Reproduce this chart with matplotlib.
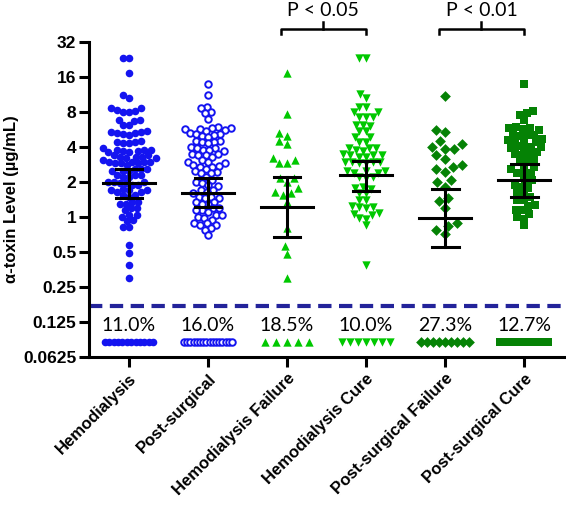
import numpy as np
import matplotlib
matplotlib.use('Agg')
from matplotlib import pyplot as plt

groups = ['Hemodialysis', 'Post-surgical', 'Hemodialysis Failure',
          'Hemodialysis Cure', 'Post-surgical Failure', 'Post-surgical Cure']

# detectable alpha-toxin levels (ug/mL)
hemodialysis = [23.1, 23.1, 17.2, 11.2, 10.5,
                8.6, 8.6, 8.4, 8.2, 8.0, 8.0,
                6.8, 6.8, 6.7, 6.2, 6.2,
                5.5, 5.4, 5.4, 5.3, 5.3, 5.2, 5.1,
                4.5, 4.4, 4.4, 4.3, 4.3,
                3.9, 3.8, 3.8, 3.8, 3.7, 3.7, 3.6, 3.6,
                3.4, 3.4, 3.3, 3.3, 3.3, 3.2, 3.2, 3.1,
                3.0, 3.0, 3.0, 2.95, 2.9, 2.9, 2.9, 2.8,
                2.6, 2.6, 2.6, 2.5, 2.5, 2.5,
                2.3, 2.3, 2.3, 2.2, 2.2,
                2.0, 2.0, 2.0, 1.95, 1.95, 1.9, 1.9,
                1.75, 1.7, 1.7, 1.7, 1.65, 1.65,
                1.55, 1.55, 1.5,
                1.35, 1.35, 1.3, 1.3,
                1.2, 1.2, 1.15,
                1.05, 1.05, 1.0,
                0.95, 0.92, 0.82, 0.82,
                0.57, 0.49, 0.39, 0.30]
post_surgical = [13.9, 11.2, 8.8, 8.6, 8.0, 7.8, 7.0,
                 5.9, 5.8, 5.8, 5.7, 5.7, 5.6, 5.5,
                 5.3, 5.2, 5.2, 5.1, 5.0, 4.9,
                 4.5, 4.5, 4.4, 4.4, 4.3,
                 4.0, 3.9, 3.9, 3.8, 3.8, 3.7,
                 3.5, 3.5, 3.4, 3.4, 3.3,
                 3.1, 3.0, 3.0, 2.9,
                 2.8, 2.75, 2.7, 2.7, 2.6,
                 2.5, 2.45, 2.4, 2.4,
                 2.2, 2.1, 2.0, 1.95, 1.9, 1.85,
                 1.7, 1.7, 1.65, 1.6,
                 1.5, 1.5, 1.45, 1.45,
                 1.35, 1.35, 1.3, 1.3,
                 1.2, 1.2, 1.15, 1.15,
                 1.1, 1.05, 1.05, 1.0, 0.98, 0.95,
                 0.88, 0.88, 0.86, 0.85, 0.8, 0.78, 0.7]
hd_failure = [17.2, 7.7, 5.3, 4.97, 4.5, 4.24, 3.24, 3.1, 2.9, 2.9, 2.18,
              2.18, 2.0, 1.76, 1.65, 1.6, 1.55, 1.35, 0.8, 0.56, 0.48, 0.30]
hd_cure = [23.1, 23.1, 11.4, 10.6, 8.8, 8.8, 8.0, 8.0, 7.3, 7.3, 7.2,
           6.2, 6.2, 6.1, 5.5, 5.5, 4.9, 4.9, 4.4, 4.4,
           3.9, 3.9, 3.9, 3.8, 3.7, 3.5, 3.4, 3.4, 3.4, 3.3, 3.3,
           3.0, 3.0, 3.0, 2.95, 2.9, 2.9,
           2.5, 2.5, 2.5, 2.4, 2.4,
           2.2, 2.2, 2.15,
           1.8, 1.78, 1.75, 1.6, 1.6, 1.4, 1.4,
           1.25, 1.23, 1.22, 1.2, 1.08, 1.07, 1.05, 0.98, 0.97, 0.85, 0.39]
ps_failure = [11.0, 5.6, 5.4, 4.5, 4.25, 4.0, 3.85, 3.85, 3.4, 3.15, 2.8, 2.7,
              2.6, 2.45, 2.08, 2.0, 1.82, 1.45, 1.38, 1.19, 0.88, 0.84, 0.77, 0.71]
ps_cure = [13.9, 8.2, 7.8, 7.6, 6.8,
           5.9, 5.8, 5.8, 5.7, 5.6, 5.2, 5.1, 5.1, 5.0,
           4.7, 4.6, 4.6, 4.5, 4.4, 4.1, 4.0, 4.0, 3.9, 3.9,
           3.6, 3.5, 3.5, 3.4, 3.1, 3.1, 3.0,
           2.7, 2.7, 2.6, 2.4, 2.4, 2.3,
           2.1, 2.0, 1.9, 1.8, 1.78,
           1.6, 1.6, 1.5, 1.4, 1.4,
           1.27, 1.25, 1.15, 1.15,
           1.07, 1.0, 0.97, 0.85]

# number of samples below detection limit, and their percentage labels
below_lod = [12, 16, 5, 7, 9, 8]
pct_labels = ['11.0%', '16.0%', '18.5%', '10.0%', '27.3%', '12.7%']
lod = 0.171
lod_plot = 0.084

# geometric mean with 95% CI
center = [1.96, 1.6, 1.21, 2.3, 0.99, 2.08]
ci_hi = [2.57, 2.15, 2.22, 3.05, 1.74, 2.86]
ci_lo = [1.47, 1.23, 0.67, 1.68, 0.55, 1.48]

data = [hemodialysis, post_surgical, hd_failure, hd_cure, ps_failure, ps_cure]

blue = '#1414F0'
lgreen = '#00C800'
dgreen = '#058205'
styles = [
    dict(marker='o', s=30, c=blue, linewidths=0),
    dict(marker='o', s=22, facecolors='white', edgecolors=blue, linewidths=1.4),
    dict(marker='^', s=36, c=lgreen, linewidths=0),
    dict(marker='v', s=36, c=lgreen, linewidths=0),
    dict(marker='D', s=30, c=dgreen, linewidths=0),
    dict(marker='s', s=34, c=dgreen, linewidths=0),
]
swarm_d = [6.0, 6.0, 8.0, 6.5, 9.0, 6.5]

W, H = 566, 505
fig = plt.figure(figsize=(W / 100, H / 100), dpi=100)
ax_l, ax_r, ax_t, ax_b = 89, 566, 42, 357
ax = fig.add_axes([ax_l / W, 1 - ax_b / H, (ax_r - ax_l) / W, (ax_b - ax_t) / H])

xlim = (0.494, 6.53)
ax.set_yscale('log', base=2)
ax.set_ylim(0.0625, 32)
ax.set_xlim(*xlim)

px_x = (ax_r - ax_l) / (xlim[1] - xlim[0])
px_y = (ax_b - ax_t) / 9.0


def swarm(vals, d=6.0, maxw=27):
    # simple beeswarm with capped width, offsets in pixels
    yp = np.log2(vals) * px_y
    order = np.argsort(yp)
    placed = []
    offs = np.zeros(len(vals))
    cands = [0.0]
    for k in range(1, maxw + 1):
        cands += [-float(k), float(k)]
    for i in order:
        best, best_d = 0.0, -1
        for cand in cands:
            md = min([np.hypot(px - cand, py - yp[i]) for (px, py) in placed] + [99])
            if md >= d:
                best = cand
                break
            if md > best_d:
                best, best_d = cand, md
        offs[i] = best
        placed.append((best, yp[i]))
    return offs


for g, vals in enumerate(data):
    xg = g + 1
    offs = swarm(np.array(vals), d=swarm_d[g])
    ax.scatter(xg + offs / px_x, vals, zorder=3, clip_on=False, **styles[g])
    n = below_lod[g]
    half = min(24, (n - 1) * 5.5)
    xs = xg + np.linspace(-half, half, n) / px_x
    ax.scatter(xs, [lod_plot] * n, zorder=3, clip_on=False, **styles[g])
    ax.text(xg, 0.117, pct_labels[g], ha='center', va='center',
            fontsize=14, family='Lato')
    # mean and CI
    ax.plot([xg - 0.33, xg + 0.33], [center[g]] * 2, color='black', lw=2.2, zorder=4)
    ax.plot([xg, xg], [ci_lo[g], ci_hi[g]], color='black', lw=2.2, zorder=4)
    for v in (ci_lo[g], ci_hi[g]):
        ax.plot([xg - 0.17, xg + 0.17], [v, v], color='black', lw=2.2, zorder=4)

ax.axhline(lod, color='#23239A', lw=3, dashes=(3.2, 1.8), zorder=2)

# significance brackets
tr = ax.get_xaxis_transform()
for (a, b, lab) in [(3, 4, 'P < 0.05'), (5, 6, 'P < 0.01')]:
    yb, yd, yt = 1.040, 1.026, 1.063
    ax.plot([a - 0.08, a - 0.08, b, b], [yd, yb, yb, yd], color='black', lw=1.8,
            transform=tr, clip_on=False)
    m = (a - 0.08 + b) / 2
    ax.plot([m, m], [yb, yt], color='black', lw=1.8, transform=tr, clip_on=False)
    ax.text(m, 1.1, lab, ha='center', va='center', fontsize=14, family='Lato',
            transform=tr)

for s in ['top', 'right']:
    ax.spines[s].set_visible(False)
for s in ['left', 'bottom']:
    ax.spines[s].set_linewidth(2.2)

yt_vals = [0.0625, 0.125, 0.25, 0.5, 1, 2, 4, 8, 16, 32]
ax.set_yticks(yt_vals)
ax.set_yticklabels(['0.0625', '0.125', '0.25', '0.5', '1', '2', '4', '8', '16', '32'],
                   fontsize=12.5, fontweight='bold', family='Liberation Sans')
ax.yaxis.set_minor_locator(matplotlib.ticker.NullLocator())
ax.set_xticks(range(1, 7))
ax.set_xticklabels(groups, rotation=45, ha='right', rotation_mode='anchor',
                   fontsize=12, fontweight='bold', family='Liberation Sans')
ax.tick_params(axis='both', length=7, width=2.2, direction='out')
ax.tick_params(axis='x', pad=3)
ax.tick_params(axis='y', pad=2)
ax.set_ylabel(u'\u03b1-toxin Level (\u00b5g/mL)', fontsize=12, fontweight='bold',
              family='Liberation Sans', labelpad=3)

fig.savefig('out.png', dpi=100)
